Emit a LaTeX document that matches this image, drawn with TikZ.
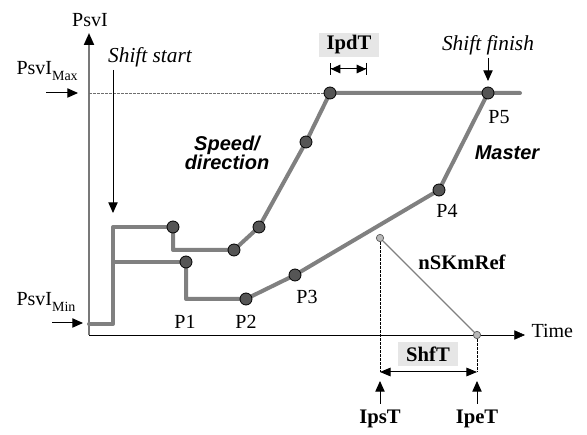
\documentclass[tikz,border=0pt]{standalone}
\usepackage{fontspec}
\setmainfont{Liberation Serif}
\newfontfamily\arialfont{Liberation Sans}
\usetikzlibrary{arrows.meta,backgrounds}

\newcommand{\psvsub}[1]{\raisebox{-4.5pt}{\fontsize{10.5}{12}\selectfont #1}}

\tikzset{every picture/.style={line width=0.75pt}}
\tikzset{
  lbl/.style={inner sep=0.75pt, font=\fontsize{15}{17}\selectfont},
  bold lbl/.style={inner sep=0.75pt, font=\fontsize{15.5}{17}\selectfont\bfseries},
  ital lbl/.style={inner sep=0.75pt, font=\fontsize{16}{18}\selectfont\itshape},
  sans lbl/.style={inner sep=0.75pt, font=\fontsize{15}{14.5}\selectfont\arialfont\bfseries\itshape},
  gbox/.style={fill={rgb, 255:red, 230; green, 230; blue, 230 }, minimum width=45pt, minimum height=18pt, inner sep=0pt, font=\fontsize{15.5}{17}\selectfont\bfseries},
  pline/.style={draw={rgb, 255:red, 128; green, 128; blue, 128 }, line width=3pt, line join=round, line cap=round},
  pdot/.style={circle, draw=black, fill={rgb, 255:red, 85; green, 85; blue, 85 }, minimum size=9pt, inner sep=0pt, line width=0.6pt},
  rdot/.style={circle, draw={rgb, 255:red, 90; green, 90; blue, 90 }, fill={rgb, 255:red, 185; green, 185; blue, 185 }, minimum size=5.5pt, inner sep=0pt, line width=0.5pt},
  tip/.style={-{Triangle[length=8pt,width=7pt]}},
  dash line/.style={dash pattern=on 2pt off 1pt, line width=0.5pt},
}

\begin{document}
\begin{tikzpicture}[x=0.75pt,y=0.75pt,yscale=-1,xscale=1]
\useasboundingbox (0,0) rectangle (587,435);

% Points
\coordinate (O) at (89,335);
\coordinate (ytop) at (89,33);
\coordinate (xend) at (525,335);
\coordinate (start) at (89,324);
\coordinate (riser) at (113,262);
\coordinate (mtop) at (89,93);
\coordinate (flat) at (520,93);
\coordinate (shfL) at (380,372);
\coordinate (shfR) at (477,372);

% Dots
\node (u1) [pdot] at (173,227) {};
\node (u2) [pdot] at (234,250) {};
\node (u3) [pdot] at (259,227) {};
\node (u4) [pdot] at (306,142) {};
\node (u5) [pdot] at (330,93) {};
\node (p5) [pdot] at (488,93) {};
\node (l1) [pdot] at (186,262) {};
\node (p2) [pdot] at (246,299) {};
\node (p3) [pdot] at (295,275) {};
\node (p4) [pdot] at (439,190) {};
\node (s1) [rdot] at (380,238) {};
\node (s2) [rdot] at (477,335) {};

\begin{scope}[on background layer]
%Axes
\draw [draw={rgb, 255:red, 120; green, 120; blue, 120 }, line width=1.5pt, -{Triangle[length=9pt,width=7.5pt,color=black]}] (O) -- (ytop) ;
\draw [tip] (O) -- (xend) ;
%Dashed Lines
\draw [dash line, color={rgb, 255:red, 110; green, 110; blue, 110 }] (mtop) -- (u5) ;
\draw [dash line] (s1) -- (shfL) ;
\draw [dash line] (s2) -- (shfR) ;
%Curves
\draw [pline] (start) -| (113,227) -- (u1) ;
\draw [pline] (riser) -- (l1) ;
\draw [pline] (u1) |- (u2) -- (u3) -- (u4) -- (u5) -- (p5) -- (flat) ;
\draw [pline] (l1) |- (p2) -- (p3) -- (p4) -- (p5) ;
%nSKmRef
\draw [color={rgb, 255:red, 128; green, 128; blue, 128 }, line width=1pt] (s1) -- (s2) ;
\end{scope}

% Text Node
\draw (90,27) node (psvi) [lbl, anchor=base] {PsvI};
% Text Node
\draw (15,75) node (psvmax) [lbl, anchor=base west] {PsvI\psvsub{Max}};
% Text Node
\draw (15,306) node (psvmin) [lbl, anchor=base west] {PsvI\psvsub{Min}};
% Text Node
\draw (530,331) node (time) [lbl, anchor=west] {Time};
% Text Node
\draw (150,63) node (sstart) [ital lbl, anchor=base] {Shift start};
% Text Node
\draw (488,51) node (sfinish) [ital lbl, anchor=base] {Shift finish};
% Text Node
\draw (227,153) node (speed) [sans lbl, align=center] {Speed/\\direction};
% Text Node
\draw (507,153) node (master) [sans lbl] {Master};
% Text Node
\draw (462,262) node (nsk) [bold lbl] {nSKmRef};
% Text Node
\draw (349,45) node (ipdt) [gbox] {IpdT};
% Text Node
\draw (428,354) node (shft) [gbox] {ShfT};
% Text Node
\draw (380,424) node (ipst) [bold lbl, anchor=base] {IpsT};
% Text Node
\draw (477,424) node (ipet) [bold lbl, anchor=base] {IpeT};
% Text Node
\draw (185,322) node (p1lbl) [lbl] {P1};
% Text Node
\draw (246,322) node (p2lbl) [lbl] {P2};
% Text Node
\draw (307,297) node (p3lbl) [lbl] {P3};
% Text Node
\draw (447,211) node (p4lbl) [lbl] {P4};
% Text Node
\draw (499,117) node (p5lbl) [lbl] {P5};

%Straight Lines
\draw [tip] (46,93) -- (78,93) ;
\draw [tip] (52,323) -- (83,323) ;
\draw [tip] (113,70) -- (113,213) ;
\draw [tip] (488,58) -- (488,81) ;
\draw [tip] (380,404) -- (380,381) ;
\draw [tip] (477,404) -- (477,381) ;
\draw [{Bar[width=9pt]Triangle[length=7pt,width=6.5pt]}-{Triangle[length=7pt,width=6.5pt]Bar[width=9pt]}] (330,69) -- (367,69) ;
\draw [{Triangle[length=8pt,width=6.5pt]}-{Triangle[length=8pt,width=6.5pt]}] (shfL) -- (shfR) ;

\end{tikzpicture}
\end{document}
